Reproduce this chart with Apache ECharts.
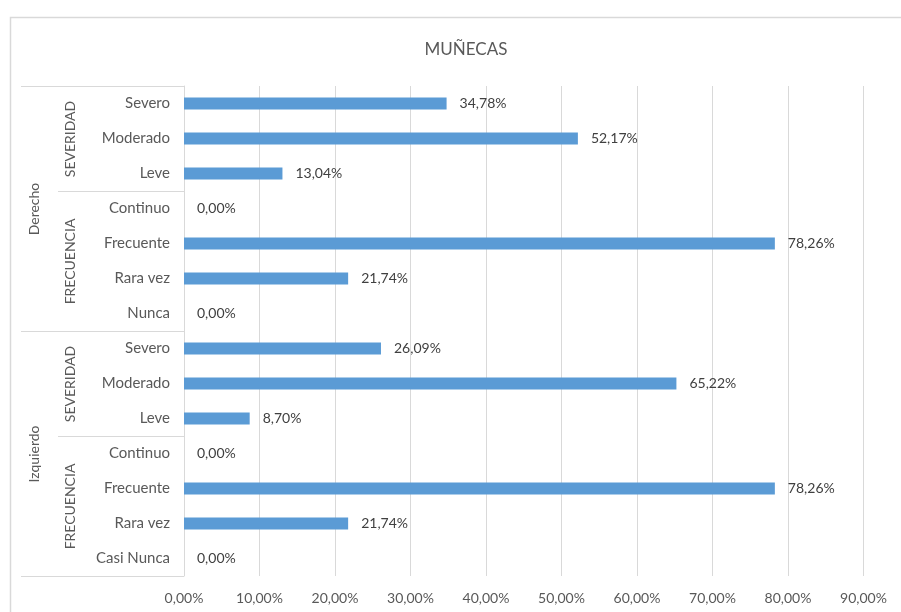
<!DOCTYPE html>
<html>
<head>
<meta charset="utf-8">
<script src="https://cdn.jsdelivr.net/npm/echarts@6/dist/echarts.min.js"></script>
<style>
  html, body { margin: 0; padding: 0; background: #fff; }
  #chart { width: 901px; height: 612px; }
</style>
</head>
<body>
<div id="chart"></div>
<script>
// Category rows, top to bottom
const categories = [
  'Severo', 'Moderado', 'Leve',
  'Continuo', 'Frecuente', 'Rara vez', 'Nunca',
  'Severo', 'Moderado', 'Leve',
  'Continuo', 'Frecuente', 'Rara vez', 'Casi Nunca'
];
// Percentages per row
const values = [
  34.78, 52.17, 13.04,
  0.00, 78.26, 21.74, 0.00,
  26.09, 65.22, 8.70,
  0.00, 78.26, 21.74, 0.00
];
// Outer grouping (wrist side) and inner grouping (dimension)
const sideGroups = [
  { name: 'Derecho', start: 0, count: 7 },
  { name: 'Izquierdo', start: 7, count: 7 }
];
const dimGroups = [
  { name: 'SEVERIDAD', start: 0, count: 3 },
  { name: 'FRECUENCIA', start: 3, count: 4 },
  { name: 'SEVERIDAD', start: 7, count: 3 },
  { name: 'FRECUENCIA', start: 10, count: 4 }
];
const xTicks = [0, 10, 20, 30, 40, 50, 60, 70, 80, 90];

const FONT = 'Lato, "Noto Sans", sans-serif';
const pct = v => v.toFixed(2).replace('.', ',') + '%';

const chart = echarts.init(document.getElementById('chart'), null, { renderer: 'canvas' });

const option = {
  animation: false,
  backgroundColor: '#ffffff',
  title: {
    text: 'MUÑECAS',
    left: 461,
    top: 36,
    textAlign: 'center',
    textStyle: { fontFamily: FONT, fontSize: 17, fontWeight: 'normal', color: '#595959' }
  },
  grid: { left: 184, right: 37.5, top: 86, bottom: 36, containLabel: false },
  xAxis: {
    type: 'value',
    min: xTicks[0],
    max: xTicks[xTicks.length - 1],
    interval: 10,
    axisLine: { show: false },
    axisTick: { show: false },
    splitLine: { lineStyle: { color: '#d9d9d9', width: 1 } },
    axisLabel: {
      margin: 15,
      fontFamily: FONT, fontSize: 14, color: '#595959',
      formatter: v => pct(v)
    }
  },
  yAxis: {
    type: 'category',
    inverse: true,
    data: categories,
    axisLine: { show: true, lineStyle: { color: '#d9d9d9', width: 1 } },
    axisTick: { show: false },
    axisLabel: { margin: 14, fontFamily: FONT, fontSize: 15, color: '#595959', padding: [2, 0, 0, 0] }
  },
  series: [{
    type: 'bar',
    data: values,
    barWidth: 12,
    itemStyle: { color: '#5b9bd5' },
    label: {
      show: true,
      position: 'right',
      distance: 13,
      fontFamily: FONT, fontSize: 14, color: '#404040',
      padding: [2, 0, 0, 0],
      formatter: p => pct(p.value)
    }
  }]
};

chart.setOption(option);

// Hierarchical axis labels and separators, placed from the category scale
function buildGroupGraphics() {
  const y0 = chart.convertToPixel({ yAxisIndex: 0 }, 0);
  const y1 = chart.convertToPixel({ yAxisIndex: 0 }, 1);
  const band = y1 - y0;
  const edge = i => y0 + (i - 0.5) * band;
  const axisX = 184;
  const outerX = 21, innerX = 58;
  const lineStyle = { stroke: '#d9d9d9', lineWidth: 1 };
  const els = [];

  // chart frame
  els.push({
    type: 'rect', silent: true,
    shape: { x: 10.5, y: 17.5, width: 1000, height: 1000 },
    style: { fill: 'none', stroke: '#d9d9d9', lineWidth: 1.5 }
  });

  sideGroups.forEach(g => {
    const top = Math.round(edge(g.start)) + 0.5;
    const bot = Math.round(edge(g.start + g.count)) + 0.5;
    els.push({ type: 'line', silent: true, shape: { x1: outerX, y1: top, x2: axisX, y2: top }, style: lineStyle });
    els.push({ type: 'line', silent: true, shape: { x1: outerX, y1: bot, x2: axisX, y2: bot }, style: lineStyle });
    els.push({
      type: 'text', silent: true,
      x: 34, y: (top + bot) / 2, rotation: Math.PI / 2,
      style: { text: g.name, fontFamily: FONT, fontSize: 14, fill: '#595959', align: 'center', verticalAlign: 'middle' }
    });
  });

  dimGroups.forEach(g => {
    const top = Math.round(edge(g.start)) + 0.5;
    const bot = Math.round(edge(g.start + g.count)) + 0.5;
    if (g.start % 7 !== 0) {
      els.push({ type: 'line', silent: true, shape: { x1: innerX, y1: top, x2: axisX, y2: top }, style: lineStyle });
    }
    els.push({
      type: 'text', silent: true,
      x: 70, y: (top + bot) / 2, rotation: Math.PI / 2,
      style: { text: g.name, fontFamily: FONT, fontSize: 14, fill: '#595959', align: 'center', verticalAlign: 'middle' }
    });
  });
  return els;
}

chart.setOption({ graphic: { elements: buildGroupGraphics() } });
</script>
</body>
</html>
